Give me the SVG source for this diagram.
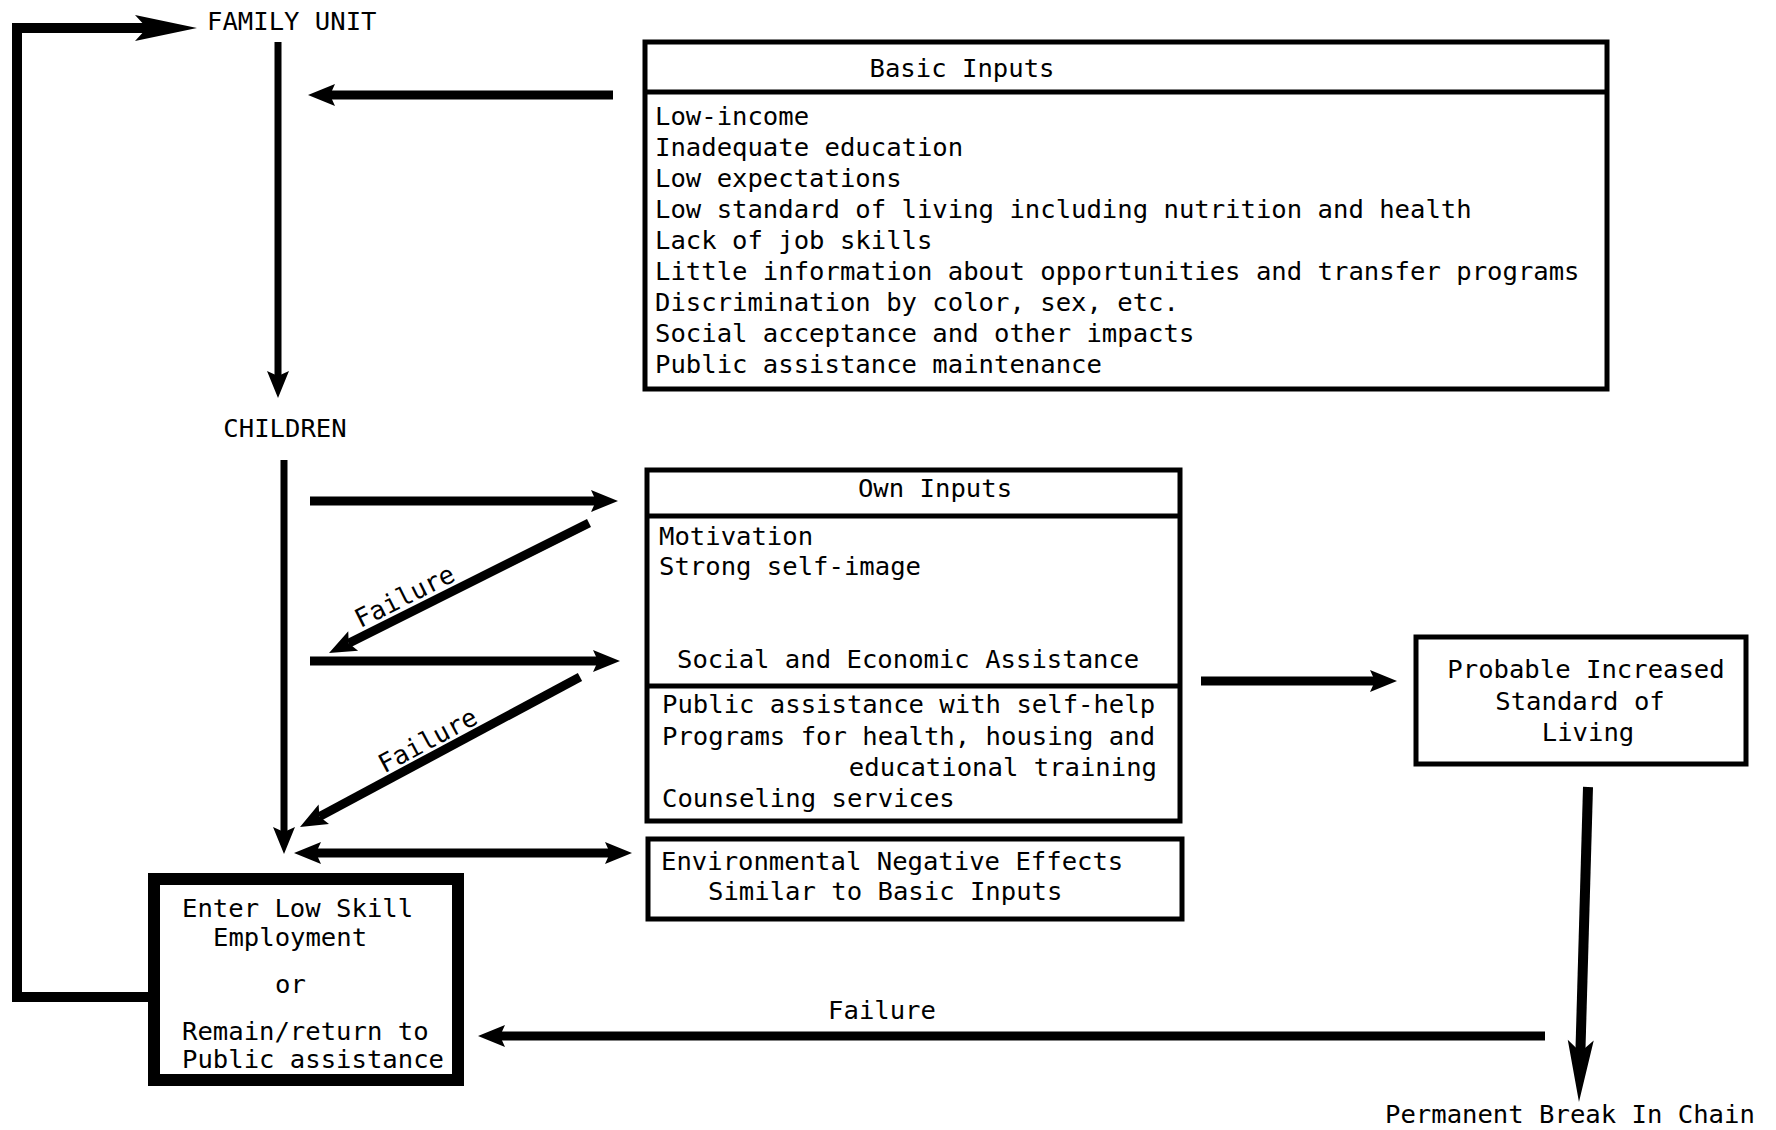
<svg xmlns="http://www.w3.org/2000/svg" width="1776" height="1130" viewBox="0 0 1776 1130">
<style>
text{font-family:"DejaVu Sans Mono","Liberation Mono",monospace;font-size:25.6px;fill:#000}
.box{fill:#fff;stroke:#000;stroke-width:5}
.thick{fill:#fff;stroke:#000;stroke-width:12}
.div{stroke:#000;stroke-width:5}
.c{fill:none;stroke:#000;stroke-width:9;stroke-linejoin:miter}
.thin{stroke-width:7}
.mid{text-anchor:middle}
.end{text-anchor:end}
</style>
<defs>
<marker id="head" markerUnits="userSpaceOnUse" markerWidth="60" markerHeight="60" refX="0" refY="0" orient="auto" overflow="visible">
<path d="M-5,-11 L22,0 L-5,11 L0,0 Z" fill="#000"/>
</marker>
<marker id="head2" markerUnits="userSpaceOnUse" markerWidth="60" markerHeight="60" refX="0" refY="0" orient="auto-start-reverse" overflow="visible">
<path d="M-5,-11 L22,0 L-5,11 L0,0 Z" fill="#000"/>
</marker>
<marker id="headLong" markerUnits="userSpaceOnUse" markerWidth="80" markerHeight="60" refX="0" refY="0" orient="auto" overflow="visible">
<path d="M-12,-13 L50,0 L-12,13 L0,0 Z" fill="#000"/>
</marker>
</defs>
<rect x="0" y="0" width="1776" height="1130" fill="#fff"/>

<g id="connectors">
<path class="c" style="stroke-width:10" d="M151,997 H17 V28 H147" marker-end="url(#headLong)"/>
<path class="c thin" d="M278,42 V376" marker-end="url(#head)"/>
<path class="c" d="M613,95 H330" marker-end="url(#head)"/>
<path class="c thin" d="M284,460 V832" marker-end="url(#head)"/>
<path class="c" d="M310,501 H596" marker-end="url(#head)"/>
<path class="c" d="M589,523 L348.7,643.2" marker-end="url(#head)"/>
<path class="c" d="M310,661 H598" marker-end="url(#head)"/>
<path class="c" d="M580,677 L319.4,816.6" marker-end="url(#head)"/>
<path class="c" d="M316,853 H610" marker-start="url(#head2)" marker-end="url(#head2)"/>
<path class="c" d="M1201,681 H1375" marker-end="url(#head)"/>
<path class="c" style="stroke-width:10" d="M1588,787 L1580.4,1052" marker-end="url(#headLong)"/>
<path class="c" d="M1545,1036 H500" marker-end="url(#head)"/>
<text transform="translate(405,597) rotate(-26.6)" y="8" class="mid">Failure</text>
<text transform="translate(428,741) rotate(-28)" y="8" class="mid">Failure</text>
<text x="882" y="1019" class="mid">Failure</text>
</g>

<g id="family-unit">
<text x="207" y="30">FAMILY UNIT</text>
</g>

<g id="children">
<text x="285" y="437" class="mid">CHILDREN</text>
</g>

<g id="basic-inputs">
<rect class="box" x="645" y="42" width="962" height="347"/>
<line class="div" x1="645" y1="92" x2="1607" y2="92"/>
<text x="962" y="77" class="mid">Basic Inputs</text>
<text x="655" y="125">Low-income</text>
<text x="655" y="156">Inadequate education</text>
<text x="655" y="187">Low expectations</text>
<text x="655" y="218">Low standard of living including nutrition and health</text>
<text x="655" y="249">Lack of job skills</text>
<text x="655" y="280">Little information about opportunities and transfer programs</text>
<text x="655" y="311">Discrimination by color, sex, etc.</text>
<text x="655" y="342">Social acceptance and other impacts</text>
<text x="655" y="373">Public assistance maintenance</text>
</g>

<g id="own-inputs">
<rect class="box" x="647" y="470" width="533" height="351"/>
<line class="div" x1="647" y1="516" x2="1180" y2="516"/>
<line class="div" x1="647" y1="686" x2="1180" y2="686"/>
<text x="935" y="497" class="mid">Own Inputs</text>
<text x="659" y="545">Motivation</text>
<text x="659" y="575">Strong self-image</text>
<text x="677" y="668">Social and Economic Assistance</text>
<text x="662" y="713">Public assistance with self-help</text>
<text x="662" y="745">Programs for health, housing and</text>
<text x="1157" y="776" class="end">educational training</text>
<text x="662" y="807">Counseling services</text>
</g>

<g id="env-effects">
<rect class="box" x="648" y="839" width="534" height="80"/>
<text x="661" y="870">Environmental Negative Effects</text>
<text x="708" y="900">Similar to Basic Inputs</text>
</g>

<g id="probable">
<rect class="box" x="1416" y="637" width="330" height="127"/>
<text x="1586" y="678" class="mid">Probable Increased</text>
<text x="1580" y="710" class="mid">Standard of</text>
<text x="1588" y="741" class="mid">Living</text>
</g>

<g id="permanent-break">
<text x="1385" y="1123">Permanent Break In Chain</text>
</g>

<g id="low-skill">
<rect class="thick" x="154" y="879" width="304" height="201"/>
<text x="182" y="917">Enter Low Skill</text>
<text x="213" y="946">Employment</text>
<text x="275" y="993">or</text>
<text x="182" y="1040">Remain/return to</text>
<text x="182" y="1068">Public assistance</text>
</g>
</svg>
